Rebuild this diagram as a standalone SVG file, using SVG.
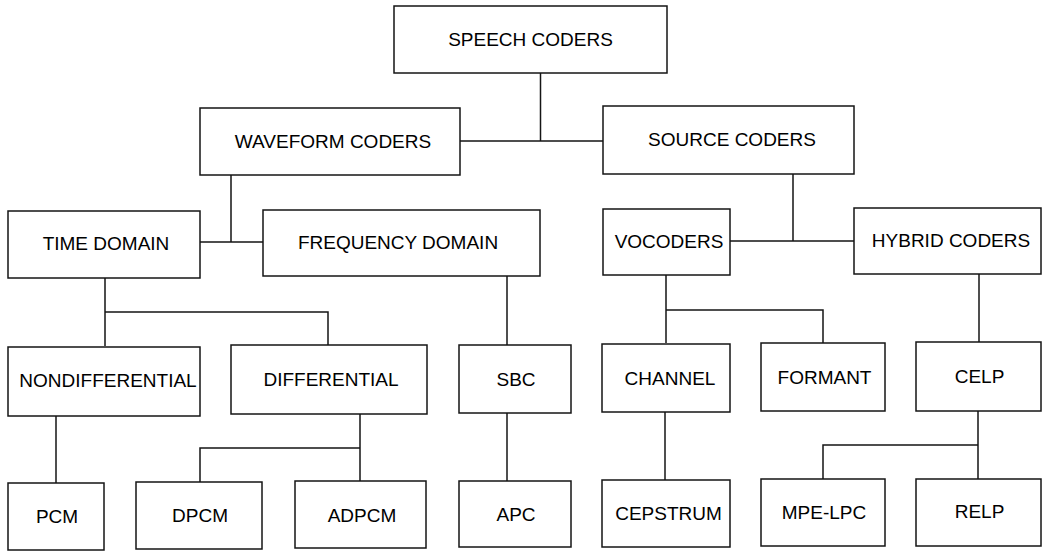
<svg xmlns="http://www.w3.org/2000/svg" width="1063" height="551" viewBox="0 0 1063 551">
<style>
.box{fill:#fff;stroke:#151515;stroke-width:1.5}
.lbl{font-family:"Liberation Sans",Arial,sans-serif;font-size:19px;fill:#000;text-anchor:middle}
.con{fill:none;stroke:#151515;stroke-width:1.5}
</style>
<rect width="1063" height="551" fill="#fff"/>
<g id="connectors">
<path class="con" d="M540.5 73V141M460 141H603"/>
<path class="con" d="M231 175V242M200 242H263"/>
<path class="con" d="M793 174V241M730 241H854"/>
<path class="con" d="M105 278V346M105 312H328V345"/>
<path class="con" d="M507 276V345"/>
<path class="con" d="M507 413V481"/>
<path class="con" d="M666 275V343M666 310H823V343"/>
<path class="con" d="M979 274V342"/>
<path class="con" d="M56 416V483"/>
<path class="con" d="M360 414V481M360 448H200V482"/>
<path class="con" d="M665 412V480"/>
<path class="con" d="M978 411V479M978 445H823V479"/>
</g>
<g id="speech-coders"><rect class="box" x="394" y="6" width="273" height="67"/><text class="lbl" x="530.5" y="46">SPEECH CODERS</text></g>
<g id="waveform-coders"><rect class="box" x="200" y="108" width="260" height="67"/><text class="lbl" x="333" y="148">WAVEFORM CODERS</text></g>
<g id="source-coders"><rect class="box" x="603" y="106" width="251" height="68"/><text class="lbl" x="732" y="146">SOURCE CODERS</text></g>
<g id="time-domain"><rect class="box" x="8" y="211" width="192" height="67"/><text class="lbl" x="106" y="250">TIME DOMAIN</text></g>
<g id="frequency-domain"><rect class="box" x="263" y="210" width="277" height="66"/><text class="lbl" x="398" y="249">FREQUENCY DOMAIN</text></g>
<g id="vocoders"><rect class="box" x="603" y="209" width="127" height="66"/><text class="lbl" x="669" y="248">VOCODERS</text></g>
<g id="hybrid-coders"><rect class="box" x="854" y="208" width="187" height="66"/><text class="lbl" x="951" y="247">HYBRID CODERS</text></g>
<g id="nondifferential"><rect class="box" x="8" y="347" width="192" height="69"/><text class="lbl" x="108" y="387">NONDIFFERENTIAL</text></g>
<g id="differential"><rect class="box" x="231" y="345" width="196" height="69"/><text class="lbl" x="331" y="386">DIFFERENTIAL</text></g>
<g id="sbc"><rect class="box" x="459" y="345" width="112" height="68"/><text class="lbl" x="516" y="386">SBC</text></g>
<g id="channel"><rect class="box" x="602" y="344" width="128" height="68"/><text class="lbl" x="670" y="385">CHANNEL</text></g>
<g id="formant"><rect class="box" x="761" y="343" width="124" height="68"/><text class="lbl" x="824.5" y="384">FORMANT</text></g>
<g id="celp"><rect class="box" x="916" y="342" width="125" height="69"/><text class="lbl" x="979.5" y="383">CELP</text></g>
<g id="pcm"><rect class="box" x="8" y="483" width="96" height="67"/><text class="lbl" x="57" y="523">PCM</text></g>
<g id="dpcm"><rect class="box" x="136" y="482" width="126" height="67"/><text class="lbl" x="200" y="522">DPCM</text></g>
<g id="adpcm"><rect class="box" x="295" y="481" width="131" height="67"/><text class="lbl" x="362" y="522">ADPCM</text></g>
<g id="apc"><rect class="box" x="459" y="481" width="112" height="66"/><text class="lbl" x="516" y="521">APC</text></g>
<g id="cepstrum"><rect class="box" x="602" y="480" width="128" height="67"/><text class="lbl" x="668.5" y="520">CEPSTRUM</text></g>
<g id="mpe-lpc"><rect class="box" x="761" y="479" width="124" height="67"/><text class="lbl" x="824" y="519">MPE-LPC</text></g>
<g id="relp"><rect class="box" x="916" y="479" width="125" height="67"/><text class="lbl" x="979.5" y="518">RELP</text></g>
</svg>
